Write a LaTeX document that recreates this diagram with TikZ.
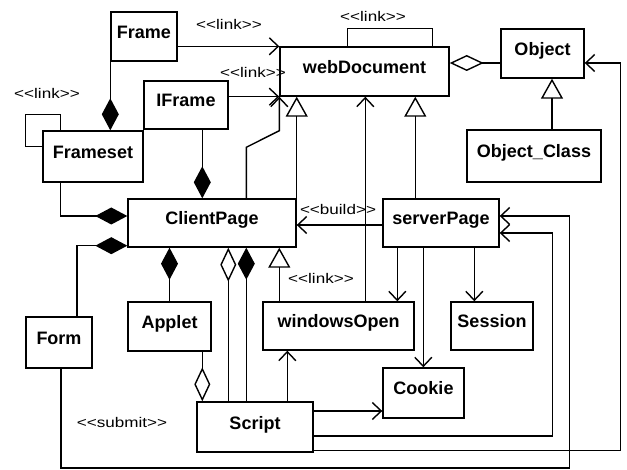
\documentclass[tikz,border=0pt]{standalone}
\usepackage{fontspec}
\setmainfont{Liberation Sans}
\newfontfamily\sterfont{Liberation Sans}[FakeStretch=1.22]
\usetikzlibrary{arrows.meta,calc}
\begin{document}
\begin{tikzpicture}[x=1pt,y=-1pt,line width=1.4pt,
  cls/.style={draw,rectangle,inner sep=0pt,font=\fontsize{18}{20}\selectfont\bfseries,text height=14pt,text depth=10pt},
  ster/.style={inner sep=0pt,font=\sterfont\fontsize{14}{16}\selectfont},
  nav/.style={-{Straight Barb[length=9pt,width=17pt,line width=1.4pt]}},
  gen/.style={-{Triangle[open,length=20pt,width=22pt,fill=white]}},
  comp/.style={-{Diamond[length=32pt,width=17pt]}},
  agg/.style={-{Diamond[open,length=34pt,width=16pt,fill=white]}}]
\fill[white] (0,0) rectangle (627,470);
\useasboundingbox (0,0) rectangle (627,470);
% classes
\node[cls,minimum width=66pt,minimum height=49pt] (frame) at (144,36.5) {Frame};
\node[cls,minimum width=169pt,minimum height=49pt] (webdoc) at (364.5,71.5) {webDocument};
\node[cls,minimum width=83pt,minimum height=49pt] (object) at (542.5,53.5) {Object};
\node[cls,minimum width=134pt,minimum height=52pt] (objclass) at (534,156) {Object\_Class};
\node[cls,minimum width=100pt,minimum height=51pt] (frameset) at (93,156.5) {Frameset};
\node[cls,minimum width=84pt,minimum height=48pt] (iframe) at (186,105) {IFrame};
\node[cls,minimum width=168pt,minimum height=48pt] (client) at (212,223) {ClientPage};
\node[cls,minimum width=116pt,minimum height=48pt] (server) at (441,223) {serverPage};
\node[cls,minimum width=66pt,minimum height=51pt] (form) at (59,342.5) {Form};
\node[cls,minimum width=83pt,minimum height=49pt] (applet) at (169.5,326.5) {Applet};
\node[cls,minimum width=151pt,minimum height=48pt] (winopen) at (338.5,326) {windowsOpen};
\node[cls,minimum width=82pt,minimum height=48pt] (session) at (492,326) {Session};
\node[cls,minimum width=81pt,minimum height=50pt] (cookie) at (423.5,393) {Cookie};
\node[cls,minimum width=116pt,minimum height=50pt] (script) at (255,427) {Script};
% stereotype labels
\node[ster] (l1) at (229,24) {<{}<link>{}>};
\node[ster] (l2) at (253,72) {<{}<link>{}>};
\node[ster] (l3) at (47,93) {<{}<link>{}>};
\node[ster] (l4) at (373,16) {<{}<link>{}>};
\node[ster] (l5) at (321,278) {<{}<link>{}>};
\node[ster] (l6) at (338,209) {<{}<build>{}>};
\node[ster] (l7) at (122,422) {<{}<submit>{}>};
% helper coordinates on box borders
\coordinate (cpT) at ($(client.north west)+(119,0)$);
\coordinate (cpB) at ($(cpT)+(0,-51)$);
\coordinate (wdA) at ($(webdoc.south west)+(0,34)$);
\coordinate (fsT) at ($(frameset.north west)+(18,0)$);
\coordinate (fsL) at ($(frameset.north west)+(0,16)$);
\coordinate (wdL) at ($(webdoc.north west)+(68,0)$);
\coordinate (wdR) at ($(webdoc.north west)+(153,0)$);
\coordinate (ifB) at ($(iframe.south west)+(59,0)$);
\coordinate (fsB) at ($(frameset.south west)+(18,0)$);
\coordinate (cpL) at ($(client.west)+(0,-7)$);
\coordinate (fmT) at ($(form.north)+(18,0)$);
\coordinate (cpLB) at ($(client.south west)+(0,-2)$);
\coordinate (apB) at ($(applet.south west)+(75,0)$);
\coordinate (scA) at ($(script.north west)+(32,0)$);
\coordinate (scC) at ($(script.north west)+(50,0)$);
\coordinate (woG) at ($(winopen.north west)+(17,0)$);
\coordinate (scW) at ($(script.north west)+(91,0)$);
\coordinate (woN) at ($(winopen.north west)+(103,0)$);
\coordinate (spG) at ($(server.north west)+(33,0)$);
\coordinate (spL) at ($(server.west)+(0,2)$);
\coordinate (spS) at ($(server.south west)+(92,0)$);
\coordinate (spW) at ($(server.south west)+(15,0)$);
\coordinate (spC) at ($(server.south west)+(41,0)$);
\coordinate (obL) at ($(object.west)+(0,9.5)$);
\coordinate (ocT) at ($(objclass.north)+(18,0)$);
\coordinate (scK) at ($(script.east)+(0,-16)$);
\coordinate (scS) at ($(script.east)+(0,9)$);
\coordinate (spR1) at ($(server.east)+(0,10)$);
\coordinate (spV1) at ($(server.east)+(53,10)$);
\coordinate (scO) at ($(script.south east)+(0,-2)$);
\coordinate (obR) at ($(object.east)+(0,9.5)$);
\coordinate (obV) at ($(object.east)+(36,9.5)$);
\coordinate (fmB) at ($(form.south)+(2,0)$);
\coordinate (spR2) at ($(server.east)+(0,-7)$);
\coordinate (spV2) at ($(server.east)+(70,-7)$);
\coordinate (spD2) at ($(server.east)+(70,245)$);
% Frame / IFrame / ClientPage links to webDocument
\draw[nav] (frame.east |- webdoc.north west) -- (webdoc.north west);
\draw[nav] (iframe.east |- webdoc.south west) -- (webdoc.south west);
\draw[nav] (cpT) -- (cpB) -- (wdA) -- (webdoc.south west);
\draw[gen] (client.north east) -- (client.north east |- webdoc.south);
% self loops
\draw (fsT) -- ++(0,-16) -- ++(-35,0) -- ++(0,32) -- (fsL);
\draw (wdL) -- ++(0,-18) -- ++(85,0) -- (wdR);
% compositions and aggregations
\draw[comp] (frame.south west) -- (frame.south west |- frameset.north);
\draw[comp] (ifB) -- (ifB |- client.north);
\draw[comp] (fsB) |- (cpL);
\draw[comp] (fmT) |- (cpLB);
\draw[comp] (applet.north) -- (applet.north |- client.south);
\draw[agg] (apB) -- (apB |- script.north);
\draw[agg] (scA) -- (scA |- client.south);
\draw[comp] (scC) -- (scC |- client.south);
% windowsOpen
\draw[gen] (woG) -- (woG |- client.south);
\draw[nav] (scW) -- (scW |- winopen.south);
\draw[nav] (woN) -- (woN |- webdoc.south);
% serverPage
\draw[gen] (spG) -- (spG |- webdoc.south);
\draw[nav] (spL) -- (spL -| client.east);
\draw[nav] (spS) -- (spS |- session.north);
\draw[nav] (spW) -- (spW |- winopen.north);
\draw[nav] (spC) -- (spC |- cookie.north);
% Object
\draw[agg] (obL) -- (obL -| webdoc.east);
\draw[gen] (ocT) -- (ocT |- object.south);
% Script connections
\draw[nav] (scK) -- (scK -| cookie.west);
\draw[nav] (scS) -| (spV1) -- (spR1);
\draw[nav] (scO) -| (obV) -- (obR);
% Form submit
\draw[nav] (fmB) |- (spD2) -- (spV2) -- (spR2);
\end{tikzpicture}
\end{document}
